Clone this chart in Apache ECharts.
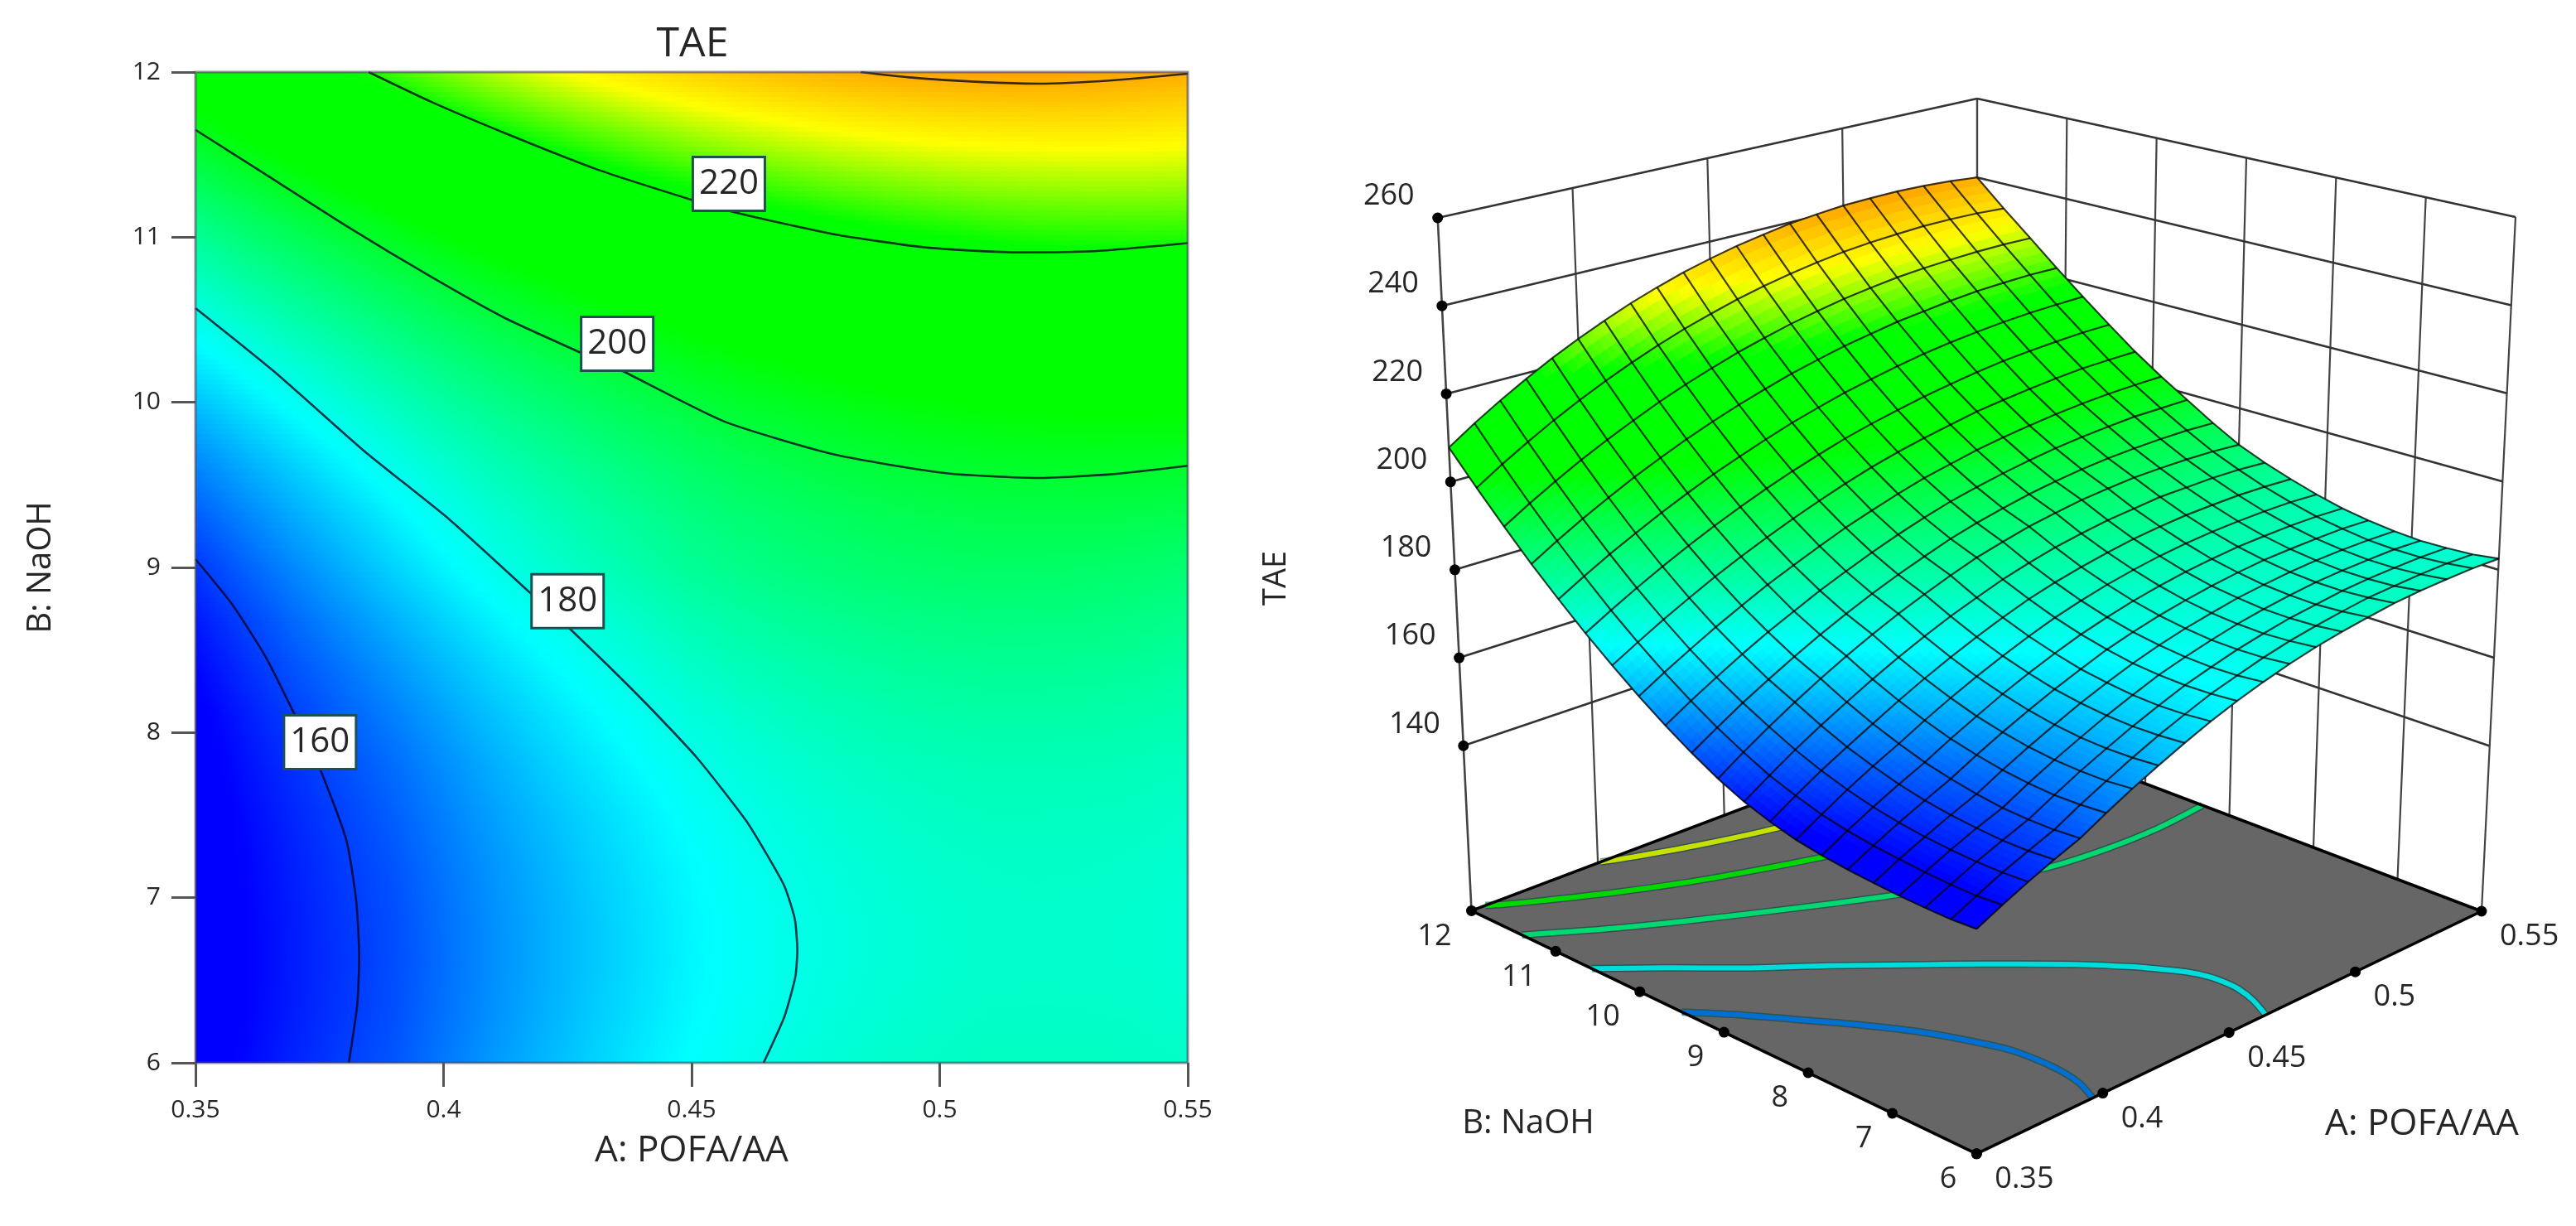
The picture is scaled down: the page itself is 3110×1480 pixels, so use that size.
<!DOCTYPE html>
<html><head><meta charset="utf-8">
<style>html,body{margin:0;padding:0;background:#fff}#main{width:3110px;height:1480px}</style>
<script src="https://cdn.jsdelivr.net/npm/echarts@6/dist/echarts.min.js"></script>
</head><body><div id="main"></div>
<script>
// ---------- data ----------
const aTicks=[0.35,0.4,0.45,0.5,0.55];
const bTicks=[6,7,8,9,10,11,12];
const zTicks=[140,160,180,200,220,240,260];
const aValues=[0.35,0.36,0.37,0.38,0.39,0.40,0.41,0.42,0.43,0.44,0.45,0.46,0.47,0.48,0.49,0.50,0.51,0.52,0.53,0.54,0.55];
const bValues=[6,6.3,6.6,6.9,7.2,7.5,7.8,8.1,8.4,8.7,9,9.3,9.6,9.9,10.2,10.5,10.8,11.1,11.4,11.7,12];
// TAE at each B in bValues, one list per A
const taeA035=[152.8,152.3,152.2,152.2,152.4,152.7,153.2,154.0,155.4,157.2,159.7,162.8,166.3,170.2,174.5,179.1,184.1,189.4,195.2,201.3,207.8];
const taeA036=[155.5,154.9,154.8,154.9,155.2,155.6,156.3,157.3,158.9,160.8,163.4,166.3,169.7,173.5,177.7,182.3,187.4,192.8,198.7,205.0,211.7];
const taeA037=[158.0,157.5,157.3,157.4,157.7,158.3,159.2,160.5,162.2,164.3,166.9,169.7,172.9,176.6,180.8,185.4,190.5,196.0,202.0,208.4,215.3];
const taeA038=[160.3,159.7,159.5,159.7,160.1,160.8,161.9,163.4,165.2,167.5,170.2,172.8,176.0,179.6,183.7,188.3,193.4,199.0,205.1,211.7,218.7];
const taeA039=[162.4,161.8,161.6,161.7,162.3,163.2,164.4,166.1,168.1,170.5,173.3,175.8,178.9,182.4,186.5,191.1,196.2,201.9,208.0,214.7,221.9];
const taeA040=[165.4,164.8,164.5,164.7,165.2,166.1,167.3,169.0,171.0,173.4,176.2,178.6,181.5,185.1,189.1,193.7,198.8,204.5,210.7,217.5,224.8];
const taeA041=[168.2,167.5,167.3,167.4,167.9,168.8,170.0,171.7,173.7,176.1,178.9,181.2,184.1,187.5,191.5,196.1,201.3,207.0,213.3,220.1,227.5];
const taeA042=[170.7,170.1,169.8,169.9,170.4,171.3,172.6,174.2,176.2,178.6,181.4,183.6,186.4,189.8,193.8,198.4,203.5,209.3,215.6,222.5,230.0];
const taeA043=[173.1,172.5,172.2,172.3,172.8,173.6,174.9,176.5,178.5,180.9,183.6,185.8,188.6,192.0,195.9,200.5,205.6,211.4,217.7,224.7,232.2];
const taeA044=[175.3,174.6,174.3,174.4,174.9,175.7,177.0,178.6,180.6,182.9,185.7,187.8,190.6,193.9,197.9,202.4,207.6,213.3,219.7,226.6,234.2];
const taeA045=[177.2,176.6,176.3,176.4,176.8,177.7,178.9,180.5,182.5,184.8,187.6,189.7,192.4,195.7,199.7,204.2,209.3,215.1,221.4,228.4,235.9];
const taeA046=[178.8,178.1,177.8,177.9,178.4,179.2,180.4,182.0,184.0,186.3,189.0,191.2,194.0,197.3,201.2,205.7,210.9,216.6,223.0,229.9,237.4];
const taeA047=[180.2,179.5,179.2,179.2,179.7,180.5,181.7,183.3,185.2,187.6,190.3,192.4,195.2,198.5,202.5,207.0,212.2,218.0,224.3,231.2,238.6];
const taeA048=[181.3,180.6,180.2,180.3,180.7,181.5,182.7,184.3,186.2,188.5,191.2,193.5,196.3,199.7,203.6,208.2,213.4,219.1,225.5,232.3,239.7];
const taeA049=[182.1,181.4,181.1,181.1,181.6,182.3,183.5,185.1,187.0,189.3,192.0,194.3,197.2,200.6,204.7,209.2,214.5,220.2,226.4,233.2,240.4];
const taeA050=[182.7,182.0,181.6,181.7,182.1,182.9,184.0,185.6,187.5,189.7,192.4,194.9,197.9,201.3,205.4,210.1,215.3,220.9,227.2,233.8,241.0];
const taeA051=[183.2,182.5,182.1,182.1,182.5,183.3,184.4,185.9,187.8,190.1,192.7,195.3,198.4,201.9,206.0,210.8,215.9,221.6,227.7,234.2,241.2];
const taeA052=[183.3,182.5,182.2,182.2,182.6,183.3,184.4,185.9,187.8,190.0,192.6,195.4,198.7,202.3,206.5,211.2,216.4,222.1,228.0,234.5,241.3];
const taeA053=[183.2,182.5,182.1,182.1,182.5,183.2,184.3,185.8,187.7,189.9,192.4,195.4,198.9,202.5,206.8,211.5,216.7,222.3,228.2,234.5,241.1];
const taeA054=[183.0,182.3,181.9,181.9,182.2,183.0,184.0,185.5,187.3,189.5,192.0,195.2,198.7,202.5,206.8,211.7,216.8,222.4,228.2,234.3,240.7];
const taeA055=[182.5,181.7,181.4,181.3,181.7,182.4,183.4,184.9,186.7,188.8,191.3,194.7,198.5,202.4,206.7,211.6,216.8,222.2,228.0,233.8,240.0];
const taeTable=[taeA035,taeA036,taeA037,taeA038,taeA039,taeA040,taeA041,taeA042,taeA043,taeA044,taeA045,taeA046,taeA047,taeA048,taeA049,taeA050,taeA051,taeA052,taeA053,taeA054,taeA055];
// contour lines of the 2D map: [A, B]
const contour160=[[0.3809,6],[0.3826,6.35],[0.3830,6.64],[0.3824,6.98],[0.3804,7.35],[0.3751,7.78],[0.3698,8.12],[0.3641,8.46],[0.3573,8.78],[0.35,9.05]];
const contour180=[[0.4645,6],[0.4687,6.28],[0.4709,6.52],[0.4713,6.68],[0.4708,6.87],[0.4687,7.07],[0.4648,7.28],[0.4609,7.47],[0.4510,7.85],[0.4397,8.21],[0.4254,8.63],[0.4175,8.845],[0.4012,9.29],[0.3840,9.705],[0.3661,10.18],[0.35,10.57]];
const contour200=[[0.35,11.65],[0.3639,11.385],[0.3803,11.07],[0.3975,10.76],[0.4124,10.51],[0.4277,10.30],[0.4357,10.195],[0.4565,9.885],[0.4789,9.683],[0.5013,9.571],[0.5199,9.542],[0.5348,9.565],[0.55,9.616]];
const contour220=[[0.3849,12],[0.3975,11.82],[0.4124,11.63],[0.4310,11.41],[0.4496,11.23],[0.4588,11.15],[0.4789,11.017],[0.4975,10.937],[0.5162,10.908],[0.5311,10.915],[0.55,10.964]];
const contour240=[[0.4841,12],[0.4938,11.968],[0.5087,11.939],[0.5199,11.93],[0.5348,11.95],[0.55,11.99]];
const contourLabels=[[0.3751,7.942,160],[0.425,8.796,180],[0.435,10.355,200],[0.4575,11.323,220]];
// contour lines on the floor of the 3D plot: [A, B]
const floor165=[[0.396,6],[0.400,6.3],[0.4015,6.65],[0.4005,7.1],[0.396,7.5],[0.39,7.9],[0.38,8.38],[0.37,8.78],[0.36,9.17],[0.35,9.5]];
const floor180=contour180;
const floor195=[[0.35,11.4],[0.37,11.05],[0.39,10.73],[0.41,10.43],[0.43,10.13],[0.45,9.84],[0.47,9.6],[0.49,9.37],[0.51,9.28],[0.53,9.26],[0.55,9.32]];
const floor210=[[0.3555,12],[0.36,11.92],[0.37,11.77],[0.39,11.49],[0.41,11.24],[0.43,11.03],[0.45,10.84],[0.47,10.67],[0.49,10.55],[0.51,10.45],[0.53,10.4],[0.55,10.4]];
const floor225=[[0.401,12],[0.41,11.9],[0.43,11.71],[0.45,11.55],[0.47,11.43],[0.49,11.33],[0.51,11.27],[0.53,11.24],[0.55,11.24]];
const titleText='TAE', aName='A: POFA/AA', bName='B: NaOH';

// ---------- style ----------
const FONT='"Open Sans"', INK='#262626';
const colorStops=[[155,0,0,255],[177,0,255,255],[184,0,255,185],[203,0,255,0],[219,0,255,0],[231,255,255,0],[241,255,165,0],[262,255,0,0]];
function rgb(v){
  const s=colorStops; if(v<=s[0][0])return `rgb(${s[0][1]},${s[0][2]},${s[0][3]})`;
  for(let i=1;i<s.length;i++){ if(v<=s[i][0]){const t=(v-s[i-1][0])/(s[i][0]-s[i-1][0]);
    return `rgb(${Math.round(s[i-1][1]+t*(s[i][1]-s[i-1][1]))},${Math.round(s[i-1][2]+t*(s[i][2]-s[i-1][2]))},${Math.round(s[i-1][3]+t*(s[i][3]-s[i-1][3]))})`;}}
  return 'rgb(255,0,0)';
}
const nA=aValues.length,nB=bValues.length;
const cellsLeft=[];for(let i=0;i<nA-1;i++)for(let j=0;j<nB-1;j++)cellsLeft.push([aValues[i],bValues[j],i,j]);

function renderHeat(params,api){
  const i=api.value(2),j=api.value(3),ROWS=10,children=[];
  const c00=api.coord([aValues[i],bValues[j]]),c11=api.coord([aValues[i+1],bValues[j+1]]);
  const x0=Math.round(c00[0]),x1=Math.round(c11[0]);
  for(let k=0;k<ROWS;k++){
    const f=(k+.5)/ROWS;
    const L=taeTable[i][j]+(taeTable[i][j+1]-taeTable[i][j])*f, R=taeTable[i+1][j]+(taeTable[i+1][j+1]-taeTable[i+1][j])*f;
    const yb=Math.round(c00[1]+(c11[1]-c00[1])*k/ROWS), yt=Math.round(c00[1]+(c11[1]-c00[1])*(k+1)/ROWS);
    const stops=[];for(let q=0;q<=4;q++)stops.push({offset:q/4,color:rgb(L+(R-L)*q/4)});
    children.push({type:'rect',shape:{x:x0,y:yt,width:x1-x0,height:yb-yt},style:{fill:new echarts.graphic.LinearGradient(0,0,1,0,stops)}});
  }
  return {type:'group',children};
}

// ---------- 3D view: corners of the floor and of the z=260 plane, in page pixels ----------
const Z_FLOOR=102.5,Z_TOP=260;
const FLOOR={f:[2386.3,1392.8],r:[2996,1100],b:[2387,869],l:[1776.5,1099.4]};
const TOP={f:[2386.5,543],r:[3037,262],b:[2387,119],l:[1735.7,263]};
function bil(Q,u,v,k){return (1-u)*(1-v)*Q.f[k]+u*(1-v)*Q.r[k]+u*v*Q.b[k]+(1-u)*v*Q.l[k];}
function project(A,B,z){
  const u=(A-0.35)/0.2,v=(B-6)/6,t=(z-Z_FLOOR)/(Z_TOP-Z_FLOOR);
  return [bil(FLOOR,u,v,0)+t*(bil(TOP,u,v,0)-bil(FLOOR,u,v,0)), bil(FLOOR,u,v,1)+t*(bil(TOP,u,v,1)-bil(FLOOR,u,v,1))];
}
const cells3D=[];
for(let s=(nA-2)+(nB-2);s>=0;s--)for(let i=nA-2;i>=0;i--){const j=s-i;if(j>=0&&j<nB-1)cells3D.push([i,j]);}

function renderSurfaceCell(params,api){
  const i=api.value(0),j=api.value(1),N=4,children=[];
  const T=taeTable,a0=aValues[i],a1=aValues[i+1],b0=bValues[j],b1=bValues[j+1];
  const val=(p,q)=>{const P=p/N,Q=q/N;return (1-P)*(1-Q)*T[i][j]+P*(1-Q)*T[i+1][j]+P*Q*T[i+1][j+1]+(1-P)*Q*T[i][j+1];};
  const pt=(p,q)=>api.coord(project(a0+(a1-a0)*p/N,b0+(b1-b0)*q/N,val(p,q)));
  for(let p=N-1;p>=0;p--)for(let q=N-1;q>=0;q--){
    const c=rgb((val(p,q)+val(p+1,q)+val(p,q+1)+val(p+1,q+1))/4);
    children.push({type:'polygon',shape:{points:[pt(p,q),pt(p+1,q),pt(p+1,q+1),pt(p,q+1)]},style:{fill:c,stroke:c,lineWidth:1}});
  }
  return {type:'group',children};
}
function renderMesh(params,api){
  const children=[],st={fill:null,stroke:'rgba(0,0,0,0.75)',lineWidth:2.2};
  for(let i=0;i<nA;i++)children.push({type:'polyline',shape:{points:bValues.map((b,j)=>api.coord(project(aValues[i],b,taeTable[i][j])))},style:st});
  for(let j=0;j<nB;j++)children.push({type:'polyline',shape:{points:aValues.map((a,i)=>api.coord(project(a,bValues[j],taeTable[i][j])))},style:st});
  return {type:'group',children};
}
function label(x,y,text,size,align,rot){
  return {type:'text',x,y,rotation:rot||0,style:{text,fontSize:size,fontFamily:FONT,fill:INK,align:align||'center',verticalAlign:'middle'}};
}
function renderFrame(params,api){
  const ch=[],P=(a,b,z)=>api.coord(project(a,b,z));
  const line=(p,q,w,c)=>ch.push({type:'line',shape:{x1:p[0],y1:p[1],x2:q[0],y2:q[1]},style:{stroke:c||'#444',lineWidth:w||2.2}});
  const aMin=aTicks[0],aMax=aTicks[aTicks.length-1],bMin=bTicks[0],bMax=bTicks[bTicks.length-1];
  // back walls
  aTicks.forEach(a=>line(P(a,bMax,Z_FLOOR),P(a,bMax,Z_TOP),a===aMin?2.6:2.2));
  bTicks.forEach(b=>line(P(aMax,b,Z_FLOOR),P(aMax,b,Z_TOP),2.2));
  zTicks.forEach(z=>{line(P(aMin,bMax,z),P(aMax,bMax,z),2.6,'#333');line(P(aMax,bMax,z),P(aMax,bMin,z),2.6,'#333');});
  // floor
  ch.push({type:'polygon',shape:{points:[P(aMin,bMin,Z_FLOOR),P(aMax,bMin,Z_FLOOR),P(aMax,bMax,Z_FLOOR),P(aMin,bMax,Z_FLOOR)]},style:{fill:'#666666'}});
  // contour lines on the floor
  [[floor165,'#0070d0'],[floor180,'#00dcdc'],[floor195,'#00d870'],[floor210,'#00d800'],[floor225,'#c8e000']].forEach(c=>{
    const pts=c[0].map(p=>P(p[0],p[1],Z_FLOOR));
    ch.push({type:'polyline',shape:{points:pts,smooth:0.3},style:{fill:null,stroke:'rgba(0,60,60,0.5)',lineWidth:9}});
    ch.push({type:'polyline',shape:{points:pts,smooth:0.3},style:{fill:null,stroke:c[1],lineWidth:6}});
  });
  [[P(aMin,bMin,Z_FLOOR),P(aMax,bMin,Z_FLOOR)],[P(aMin,bMin,Z_FLOOR),P(aMin,bMax,Z_FLOOR)],[P(aMin,bMax,Z_FLOOR),P(aMax,bMax,Z_FLOOR)],[P(aMax,bMin,Z_FLOOR),P(aMax,bMax,Z_FLOOR)]].forEach(s=>line(s[0],s[1],3.5,'#000'));
  const dot=p=>ch.push({type:'circle',shape:{cx:p[0],cy:p[1],r:6.5},style:{fill:'#000'}});
  zTicks.forEach(z=>{const p=P(aMin,bMax,z);dot(p);ch.push(label(p[0]-28,p[1]-26,String(z),36,'right'));});
  aTicks.forEach(a=>{const p=P(a,bMin,Z_FLOOR);dot(p);ch.push(label(p[0]+22,p[1]+31,String(a),36,'left'));});
  bTicks.forEach(b=>{const p=P(aMin,b,Z_FLOOR);dot(p);ch.push(label(p[0]-24,p[1]+31,String(b),36,'right'));});
  const c1=api.coord([1845,1357]),c2=api.coord([2924,1357]),c3=api.coord([1541,698]);
  ch.push(label(c1[0],c1[1],bName,40));ch.push(label(c2[0],c2[1],aName,44));ch.push(label(c3[0],c3[1],titleText,38,'center',Math.PI/2));
  return {type:'group',children:ch};
}
function renderBorder(params,api){
  const p=api.coord([aTicks[0],bTicks[bTicks.length-1]]),q=api.coord([aTicks[aTicks.length-1],bTicks[0]]);
  return {type:'rect',shape:{x:p[0],y:p[1],width:q[0]-p[0],height:q[1]-p[1]},style:{fill:null,stroke:'rgba(70,70,90,0.6)',lineWidth:3}};
}
const contourStyle={color:'rgba(0,0,30,0.78)',width:2.6};
function contourSeries(d){return {type:'line',xAxisIndex:0,yAxisIndex:0,data:d,showSymbol:false,symbol:'none',smooth:0.2,lineStyle:contourStyle,silent:true,z:3};}

const chart=echarts.init(document.getElementById('main'),null,{renderer:'canvas',width:3110,height:1480});
chart.setOption({
  animation:false,backgroundColor:'#fff',
  title:{text:titleText,left:831,top:24,textAlign:'center',textStyle:{fontFamily:FONT,fontSize:50,fontWeight:'normal',color:INK}},
  grid:[{left:236,top:87,width:1198,height:1196,containLabel:false},{left:0,top:0,width:3110,height:1480}],
  xAxis:[
    {type:'value',gridIndex:0,min:0.35,max:0.55,interval:0.05,name:aName,nameLocation:'middle',nameGap:84,
     nameTextStyle:{fontFamily:FONT,fontSize:44,color:INK},axisLine:{show:false},splitLine:{show:false},
     axisTick:{show:true,length:29,lineStyle:{color:'#555',width:3}},
     axisLabel:{margin:42,fontFamily:FONT,fontSize:30,color:INK,showMinLabel:true,showMaxLabel:true},z:10},
    {type:'value',gridIndex:1,min:0,max:3110,show:false}
  ],
  yAxis:[
    {type:'value',gridIndex:0,min:6,max:12,interval:1,name:bName,nameLocation:'middle',nameGap:166,
     nameTextStyle:{fontFamily:FONT,fontSize:40,color:INK},axisLine:{show:false},splitLine:{show:false},
     axisTick:{show:true,length:29,lineStyle:{color:'#555',width:3}},
     axisLabel:{margin:42,fontFamily:FONT,fontSize:30,color:INK,padding:[0,0,20,0],showMinLabel:true,showMaxLabel:true},z:10},
    {type:'value',gridIndex:1,min:0,max:1480,inverse:true,show:false}
  ],
  series:[
    {type:'custom',name:'TAE contour map',xAxisIndex:0,yAxisIndex:0,data:cellsLeft,renderItem:renderHeat,silent:true,z:1},
    contourSeries(contour160),contourSeries(contour180),contourSeries(contour200),contourSeries(contour220),contourSeries(contour240),
    {type:'custom',name:'border',xAxisIndex:0,yAxisIndex:0,data:[[0.45,9]],renderItem:renderBorder,silent:true,z:4},
    {type:'scatter',name:'contour labels',xAxisIndex:0,yAxisIndex:0,data:contourLabels,symbolSize:1,itemStyle:{color:'rgba(0,0,0,0)',opacity:1},silent:true,z:5,
     label:{show:true,opacity:1,position:'inside',formatter:p=>String(p.value[2]),fontFamily:FONT,fontSize:42,color:INK,backgroundColor:'#fff',
       borderColor:'rgb(30,80,80)',borderWidth:3,width:84,height:62,lineHeight:62,align:'center',verticalAlign:'middle'}},
    {type:'custom',name:'3D frame',xAxisIndex:1,yAxisIndex:1,data:[[1555,740]],renderItem:renderFrame,silent:true,z:1},
    {type:'custom',name:'3D surface',xAxisIndex:1,yAxisIndex:1,data:cells3D,renderItem:renderSurfaceCell,silent:true,z:2},
    {type:'custom',name:'3D mesh',xAxisIndex:1,yAxisIndex:1,data:[[1555,740]],renderItem:renderMesh,silent:true,z:3}
  ]
});
</script></body></html>
